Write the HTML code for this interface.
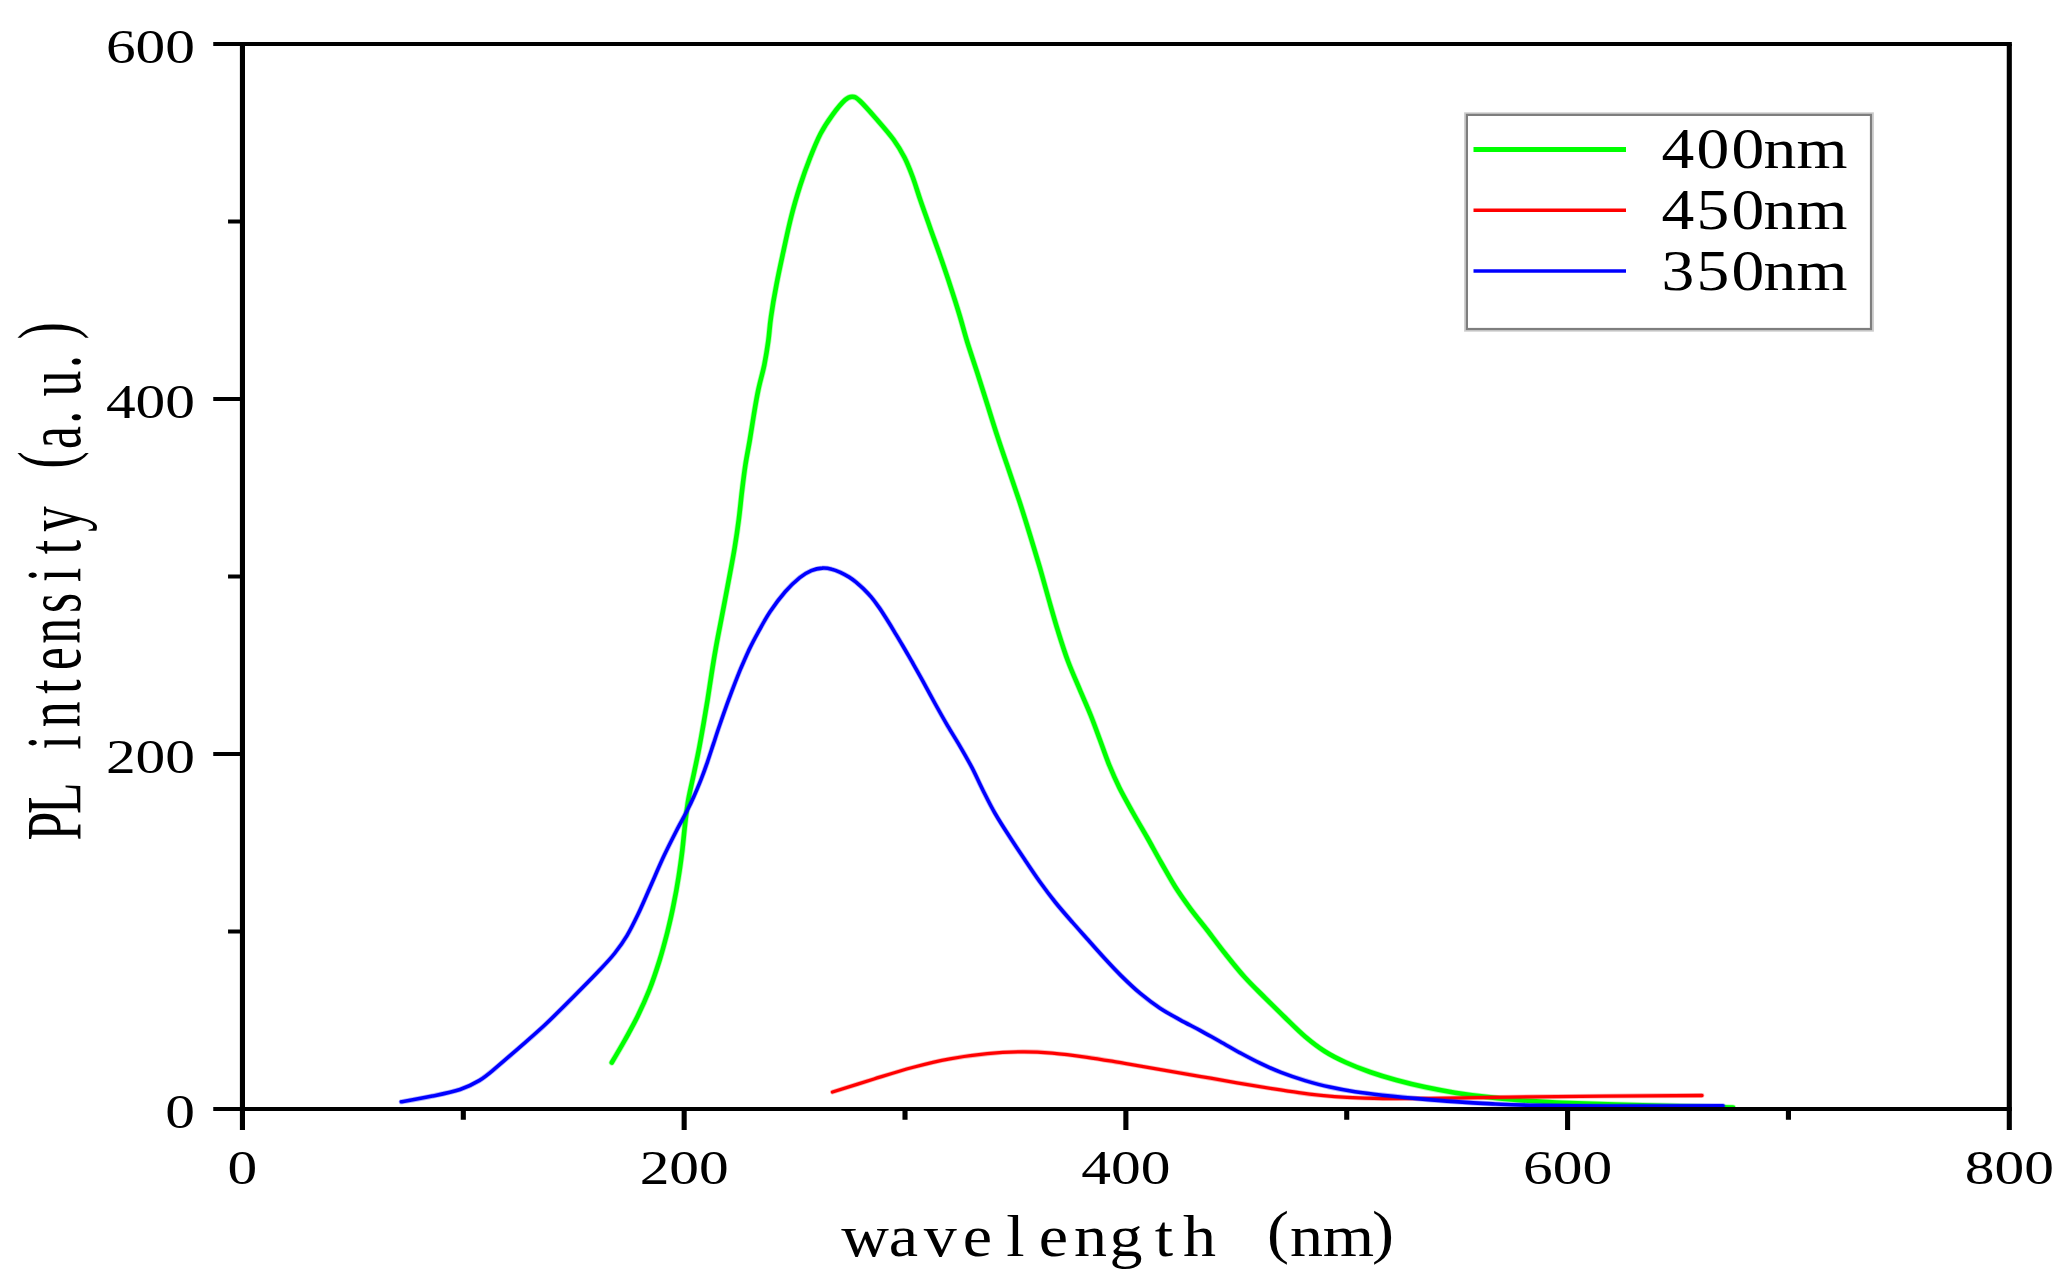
<!DOCTYPE html>
<html><head><meta charset="utf-8"><title>PL intensity vs wavelength</title>
<style>
html,body{margin:0;padding:0;background:#fff;}
body{width:2066px;height:1288px;overflow:hidden;}
svg{display:block;}
text{font-family:"Liberation Serif",serif;fill:#000;}
</style></head>
<body>
<svg width="2066" height="1288" viewBox="0 0 2066 1288">
<rect width="2066" height="1288" fill="#fff"/>
<path d="M611.8,1062.5 C614.0,1058.8 620.6,1047.7 624.9,1040.0 C629.1,1032.3 633.4,1024.9 637.5,1016.5 C641.6,1008.1 645.8,998.8 649.5,989.5 C653.2,980.2 656.5,970.0 659.5,960.5 C662.5,951.0 664.9,941.8 667.3,932.5 C669.6,923.2 671.7,914.2 673.5,905.0 C675.4,895.8 677.1,886.6 678.5,877.5 C680.0,868.4 681.2,859.2 682.3,850.5 C683.3,841.8 684.0,833.4 685.0,825.0 C686.0,816.6 686.8,808.3 688.3,799.8 C689.8,791.4 691.9,782.8 693.7,774.4 C695.5,766.0 697.3,757.7 698.9,749.4 C700.5,741.1 701.9,732.8 703.4,724.5 C704.8,716.2 706.2,708.0 707.6,699.7 C708.9,691.4 710.1,683.1 711.4,674.8 C712.7,666.5 714.0,658.3 715.5,650.0 C716.9,641.7 718.6,633.3 720.2,625.0 C721.8,616.7 723.4,608.4 725.0,600.0 C726.6,591.6 728.1,583.2 729.8,574.5 C731.4,565.8 733.2,556.7 734.7,547.5 C736.2,538.3 737.6,528.9 738.8,519.5 C740.0,510.1 740.9,500.1 742.0,491.0 C743.1,481.9 744.1,473.5 745.4,465.0 C746.7,456.5 748.4,448.3 749.8,440.0 C751.2,431.7 752.4,423.3 753.8,415.0 C755.2,406.7 756.5,398.3 758.3,390.0 C760.0,381.7 762.6,373.2 764.3,365.0 C765.9,356.8 767.2,349.0 768.3,341.0 C769.4,333.0 769.6,326.3 771.0,317.0 C772.3,307.7 774.2,296.2 776.4,285.0 C778.5,273.8 781.2,261.5 783.7,250.0 C786.2,238.5 788.6,226.8 791.4,216.0 C794.1,205.2 797.1,195.2 800.2,185.5 C803.3,175.8 806.6,166.6 810.0,158.0 C813.4,149.4 816.8,141.0 820.5,133.8 C824.2,126.6 828.4,120.4 832.5,114.8 C836.6,109.2 841.7,103.0 845.0,100.0 C848.3,97.0 850.0,96.6 852.5,96.8 C855.0,97.0 855.8,97.1 860.0,101.0 C864.2,104.9 871.9,113.8 877.5,120.2 C883.1,126.6 889.0,133.3 893.5,139.5 C898.0,145.7 901.3,151.3 904.5,157.5 C907.7,163.7 909.8,169.3 912.5,176.5 C915.2,183.7 917.6,192.0 920.5,200.5 C923.4,209.0 926.8,218.3 930.0,227.5 C933.2,236.7 936.7,245.9 940.0,255.5 C943.3,265.1 946.8,275.2 950.0,285.0 C953.2,294.8 956.4,304.6 959.2,314.0 C962.1,323.4 964.1,331.8 967.1,341.5 C970.1,351.2 973.8,361.9 977.2,372.5 C980.6,383.1 984.1,394.2 987.5,405.0 C990.9,415.8 994.2,426.7 997.8,437.5 C1001.3,448.3 1005.1,459.2 1008.8,470.0 C1012.4,480.8 1016.2,491.7 1019.8,502.5 C1023.3,513.3 1026.7,524.2 1030.0,535.0 C1033.3,545.8 1036.6,556.8 1039.8,567.5 C1042.9,578.2 1045.8,589.0 1048.8,599.5 C1051.8,610.0 1054.6,620.1 1057.8,630.4 C1061.0,640.7 1064.3,651.4 1068.0,661.2 C1071.7,671.0 1075.9,680.4 1079.7,689.4 C1083.5,698.4 1087.2,706.6 1090.6,715.0 C1094.0,723.4 1096.9,731.8 1100.0,740.0 C1103.0,748.2 1105.8,756.5 1109.0,764.5 C1112.3,772.5 1115.6,780.0 1119.5,788.0 C1123.5,796.0 1128.2,804.2 1132.8,812.5 C1137.4,820.8 1142.5,829.2 1147.2,837.5 C1151.9,845.8 1156.4,854.3 1161.1,862.5 C1165.8,870.7 1170.3,879.0 1175.2,886.8 C1180.1,894.5 1185.1,901.5 1190.5,908.8 C1195.9,916.1 1201.7,923.0 1207.5,930.5 C1213.3,938.1 1219.2,946.2 1225.5,954.0 C1231.8,961.9 1238.4,970.3 1245.0,977.5 C1251.6,984.8 1258.3,991.1 1265.0,997.8 C1271.7,1004.4 1278.3,1011.0 1285.0,1017.5 C1291.7,1024.0 1298.3,1030.8 1305.0,1036.5 C1311.7,1042.2 1318.2,1047.2 1325.0,1051.5 C1331.8,1055.8 1338.5,1059.1 1346.0,1062.5 C1353.5,1065.9 1361.7,1069.1 1370.0,1072.0 C1378.3,1074.9 1386.8,1077.5 1396.0,1080.0 C1405.2,1082.5 1415.2,1085.0 1425.0,1087.1 C1434.8,1089.2 1444.8,1091.1 1455.0,1092.7 C1465.2,1094.3 1475.2,1095.7 1486.0,1096.9 C1496.8,1098.2 1508.3,1099.3 1520.0,1100.2 C1531.7,1101.1 1540.3,1101.7 1556.2,1102.5 C1572.1,1103.2 1585.7,1103.7 1615.2,1104.6 C1644.7,1105.4 1713.4,1107.0 1733.0,1107.5" fill="none" stroke="#00ff00" stroke-opacity="0.3" stroke-width="6.199999999999999" stroke-linecap="round" stroke-linejoin="round"/>
<path d="M611.8,1062.5 C614.0,1058.8 620.6,1047.7 624.9,1040.0 C629.1,1032.3 633.4,1024.9 637.5,1016.5 C641.6,1008.1 645.8,998.8 649.5,989.5 C653.2,980.2 656.5,970.0 659.5,960.5 C662.5,951.0 664.9,941.8 667.3,932.5 C669.6,923.2 671.7,914.2 673.5,905.0 C675.4,895.8 677.1,886.6 678.5,877.5 C680.0,868.4 681.2,859.2 682.3,850.5 C683.3,841.8 684.0,833.4 685.0,825.0 C686.0,816.6 686.8,808.3 688.3,799.8 C689.8,791.4 691.9,782.8 693.7,774.4 C695.5,766.0 697.3,757.7 698.9,749.4 C700.5,741.1 701.9,732.8 703.4,724.5 C704.8,716.2 706.2,708.0 707.6,699.7 C708.9,691.4 710.1,683.1 711.4,674.8 C712.7,666.5 714.0,658.3 715.5,650.0 C716.9,641.7 718.6,633.3 720.2,625.0 C721.8,616.7 723.4,608.4 725.0,600.0 C726.6,591.6 728.1,583.2 729.8,574.5 C731.4,565.8 733.2,556.7 734.7,547.5 C736.2,538.3 737.6,528.9 738.8,519.5 C740.0,510.1 740.9,500.1 742.0,491.0 C743.1,481.9 744.1,473.5 745.4,465.0 C746.7,456.5 748.4,448.3 749.8,440.0 C751.2,431.7 752.4,423.3 753.8,415.0 C755.2,406.7 756.5,398.3 758.3,390.0 C760.0,381.7 762.6,373.2 764.3,365.0 C765.9,356.8 767.2,349.0 768.3,341.0 C769.4,333.0 769.6,326.3 771.0,317.0 C772.3,307.7 774.2,296.2 776.4,285.0 C778.5,273.8 781.2,261.5 783.7,250.0 C786.2,238.5 788.6,226.8 791.4,216.0 C794.1,205.2 797.1,195.2 800.2,185.5 C803.3,175.8 806.6,166.6 810.0,158.0 C813.4,149.4 816.8,141.0 820.5,133.8 C824.2,126.6 828.4,120.4 832.5,114.8 C836.6,109.2 841.7,103.0 845.0,100.0 C848.3,97.0 850.0,96.6 852.5,96.8 C855.0,97.0 855.8,97.1 860.0,101.0 C864.2,104.9 871.9,113.8 877.5,120.2 C883.1,126.6 889.0,133.3 893.5,139.5 C898.0,145.7 901.3,151.3 904.5,157.5 C907.7,163.7 909.8,169.3 912.5,176.5 C915.2,183.7 917.6,192.0 920.5,200.5 C923.4,209.0 926.8,218.3 930.0,227.5 C933.2,236.7 936.7,245.9 940.0,255.5 C943.3,265.1 946.8,275.2 950.0,285.0 C953.2,294.8 956.4,304.6 959.2,314.0 C962.1,323.4 964.1,331.8 967.1,341.5 C970.1,351.2 973.8,361.9 977.2,372.5 C980.6,383.1 984.1,394.2 987.5,405.0 C990.9,415.8 994.2,426.7 997.8,437.5 C1001.3,448.3 1005.1,459.2 1008.8,470.0 C1012.4,480.8 1016.2,491.7 1019.8,502.5 C1023.3,513.3 1026.7,524.2 1030.0,535.0 C1033.3,545.8 1036.6,556.8 1039.8,567.5 C1042.9,578.2 1045.8,589.0 1048.8,599.5 C1051.8,610.0 1054.6,620.1 1057.8,630.4 C1061.0,640.7 1064.3,651.4 1068.0,661.2 C1071.7,671.0 1075.9,680.4 1079.7,689.4 C1083.5,698.4 1087.2,706.6 1090.6,715.0 C1094.0,723.4 1096.9,731.8 1100.0,740.0 C1103.0,748.2 1105.8,756.5 1109.0,764.5 C1112.3,772.5 1115.6,780.0 1119.5,788.0 C1123.5,796.0 1128.2,804.2 1132.8,812.5 C1137.4,820.8 1142.5,829.2 1147.2,837.5 C1151.9,845.8 1156.4,854.3 1161.1,862.5 C1165.8,870.7 1170.3,879.0 1175.2,886.8 C1180.1,894.5 1185.1,901.5 1190.5,908.8 C1195.9,916.1 1201.7,923.0 1207.5,930.5 C1213.3,938.1 1219.2,946.2 1225.5,954.0 C1231.8,961.9 1238.4,970.3 1245.0,977.5 C1251.6,984.8 1258.3,991.1 1265.0,997.8 C1271.7,1004.4 1278.3,1011.0 1285.0,1017.5 C1291.7,1024.0 1298.3,1030.8 1305.0,1036.5 C1311.7,1042.2 1318.2,1047.2 1325.0,1051.5 C1331.8,1055.8 1338.5,1059.1 1346.0,1062.5 C1353.5,1065.9 1361.7,1069.1 1370.0,1072.0 C1378.3,1074.9 1386.8,1077.5 1396.0,1080.0 C1405.2,1082.5 1415.2,1085.0 1425.0,1087.1 C1434.8,1089.2 1444.8,1091.1 1455.0,1092.7 C1465.2,1094.3 1475.2,1095.7 1486.0,1096.9 C1496.8,1098.2 1508.3,1099.3 1520.0,1100.2 C1531.7,1101.1 1540.3,1101.7 1556.2,1102.5 C1572.1,1103.2 1585.7,1103.7 1615.2,1104.6 C1644.7,1105.4 1713.4,1107.0 1733.0,1107.5" fill="none" stroke="#00ff00" stroke-width="4.6" stroke-linecap="round" stroke-linejoin="round"/>
<path d="M832.5,1092.0 C839.4,1089.8 860.7,1083.1 874.0,1079.0 C887.3,1074.9 899.8,1070.9 912.4,1067.5 C925.1,1064.2 937.5,1061.2 949.9,1058.9 C962.4,1056.6 975.3,1054.9 987.3,1053.7 C999.4,1052.5 1011.5,1051.9 1022.3,1051.8 C1033.1,1051.7 1041.4,1052.2 1052.2,1053.1 C1063.0,1054.0 1075.0,1055.6 1087.1,1057.3 C1099.2,1059.0 1112.1,1061.3 1124.6,1063.3 C1137.1,1065.4 1149.6,1067.6 1162.1,1069.8 C1174.5,1072.0 1187.1,1074.1 1199.6,1076.3 C1212.1,1078.5 1224.9,1080.7 1237.0,1082.8 C1249.1,1084.8 1261.8,1087.0 1272.1,1088.7 C1282.4,1090.3 1290.8,1091.6 1298.9,1092.7 C1307.1,1093.9 1313.0,1094.6 1321.0,1095.4 C1329.0,1096.2 1336.7,1096.9 1347.0,1097.4 C1357.3,1097.9 1369.2,1098.3 1383.0,1098.5 C1396.8,1098.7 1413.8,1098.5 1430.0,1098.4 C1446.2,1098.2 1462.8,1097.8 1480.0,1097.6 C1497.2,1097.3 1512.5,1097.0 1533.2,1096.8 C1553.9,1096.5 1575.9,1096.3 1604.0,1096.1 C1632.1,1095.8 1685.7,1095.6 1702.0,1095.5" fill="none" stroke="#ff0000" stroke-opacity="0.3" stroke-width="4.9" stroke-linecap="round" stroke-linejoin="round"/>
<path d="M832.5,1092.0 C839.4,1089.8 860.7,1083.1 874.0,1079.0 C887.3,1074.9 899.8,1070.9 912.4,1067.5 C925.1,1064.2 937.5,1061.2 949.9,1058.9 C962.4,1056.6 975.3,1054.9 987.3,1053.7 C999.4,1052.5 1011.5,1051.9 1022.3,1051.8 C1033.1,1051.7 1041.4,1052.2 1052.2,1053.1 C1063.0,1054.0 1075.0,1055.6 1087.1,1057.3 C1099.2,1059.0 1112.1,1061.3 1124.6,1063.3 C1137.1,1065.4 1149.6,1067.6 1162.1,1069.8 C1174.5,1072.0 1187.1,1074.1 1199.6,1076.3 C1212.1,1078.5 1224.9,1080.7 1237.0,1082.8 C1249.1,1084.8 1261.8,1087.0 1272.1,1088.7 C1282.4,1090.3 1290.8,1091.6 1298.9,1092.7 C1307.1,1093.9 1313.0,1094.6 1321.0,1095.4 C1329.0,1096.2 1336.7,1096.9 1347.0,1097.4 C1357.3,1097.9 1369.2,1098.3 1383.0,1098.5 C1396.8,1098.7 1413.8,1098.5 1430.0,1098.4 C1446.2,1098.2 1462.8,1097.8 1480.0,1097.6 C1497.2,1097.3 1512.5,1097.0 1533.2,1096.8 C1553.9,1096.5 1575.9,1096.3 1604.0,1096.1 C1632.1,1095.8 1685.7,1095.6 1702.0,1095.5" fill="none" stroke="#ff0000" stroke-width="3.3" stroke-linecap="round" stroke-linejoin="round"/>
<path d="M401.3,1101.8 C406.5,1100.9 422.5,1098.2 432.3,1096.1 C442.0,1094.1 452.1,1092.1 460.0,1089.5 C467.9,1086.8 473.5,1084.0 479.5,1080.4 C485.5,1076.7 489.8,1072.8 496.0,1067.7 C502.2,1062.5 508.8,1056.7 517.0,1049.6 C525.2,1042.4 535.5,1033.7 545.0,1024.8 C554.5,1015.9 565.2,1005.0 574.0,996.2 C582.8,987.4 591.2,978.9 598.0,971.8 C604.8,964.6 609.7,959.5 614.5,953.5 C619.3,947.4 623.1,942.1 627.0,935.6 C630.9,929.0 634.1,922.4 638.0,914.3 C641.9,906.2 646.0,896.4 650.2,886.9 C654.4,877.4 659.1,866.4 663.4,857.1 C667.7,847.8 672.3,838.8 676.2,831.2 C680.1,823.6 683.8,817.2 686.8,811.3 C689.8,805.5 691.8,801.3 694.1,796.0 C696.5,790.8 698.6,785.6 700.9,779.9 C703.1,774.2 705.4,767.9 707.5,761.8 C709.6,755.7 711.6,749.4 713.7,743.2 C715.7,737.0 717.7,730.7 719.9,724.5 C722.0,718.3 724.2,712.1 726.4,705.9 C728.7,699.7 730.9,693.5 733.3,687.3 C735.7,681.1 738.2,674.7 740.7,668.6 C743.3,662.6 745.8,656.8 748.5,650.9 C751.3,645.1 753.6,640.3 757.3,633.8 C760.9,627.2 765.5,618.6 770.2,611.6 C774.9,604.5 780.5,597.1 785.4,591.5 C790.3,585.8 795.5,581.1 799.8,577.6 C804.1,574.2 807.6,572.3 811.3,570.7 C815.1,569.1 818.8,568.3 822.2,568.1 C825.6,567.8 828.7,568.4 831.7,569.2 C834.7,569.9 837.4,571.1 840.3,572.4 C843.2,573.8 846.4,575.5 849.1,577.1 C851.7,578.7 853.6,580.2 856.0,582.1 C858.3,584.1 860.8,586.2 863.3,588.6 C865.8,591.1 868.5,593.8 871.1,596.9 C873.7,600.0 876.2,603.4 878.8,607.1 C881.4,610.7 884.0,614.9 886.6,619.0 C889.2,623.1 891.7,627.2 894.3,631.6 C896.9,635.9 899.5,640.1 902.3,645.0 C905.2,649.9 908.1,655.0 911.5,660.9 C914.9,666.9 918.8,673.7 922.7,680.8 C926.6,687.9 930.9,696.0 935.0,703.5 C939.1,710.9 943.3,718.4 947.5,725.6 C951.7,732.7 955.9,739.3 960.0,746.3 C964.1,753.3 968.2,760.4 972.0,767.7 C975.8,775.0 979.0,782.5 982.8,790.0 C986.6,797.5 990.3,805.2 994.8,813.0 C999.3,820.8 1004.7,829.2 1009.8,837.0 C1014.8,844.8 1020.0,852.5 1025.0,860.0 C1030.0,867.5 1034.9,874.9 1040.0,882.0 C1045.1,889.1 1050.1,895.8 1055.5,902.5 C1060.9,909.2 1066.8,915.9 1072.5,922.4 C1078.2,928.9 1084.1,935.4 1089.5,941.5 C1094.9,947.6 1099.8,953.1 1105.0,958.8 C1110.2,964.5 1115.2,969.9 1121.0,975.6 C1126.8,981.3 1133.5,987.8 1140.0,993.2 C1146.5,998.6 1153.3,1003.8 1160.0,1008.2 C1166.7,1012.6 1173.3,1016.1 1180.0,1019.8 C1186.7,1023.5 1193.3,1026.7 1200.0,1030.3 C1206.7,1033.9 1213.3,1037.8 1220.0,1041.5 C1226.7,1045.2 1233.3,1049.2 1240.0,1052.8 C1246.7,1056.4 1253.2,1059.9 1260.0,1063.2 C1266.8,1066.5 1273.5,1069.5 1281.0,1072.4 C1288.5,1075.3 1296.8,1078.1 1305.0,1080.6 C1313.2,1083.0 1321.7,1085.3 1330.0,1087.1 C1338.3,1089.0 1346.2,1090.4 1355.0,1091.7 C1363.8,1093.0 1372.1,1094.0 1382.5,1095.2 C1392.9,1096.3 1405.4,1097.6 1417.5,1098.6 C1429.6,1099.7 1442.5,1100.8 1455.0,1101.6 C1467.5,1102.5 1479.0,1103.2 1492.5,1103.9 C1506.0,1104.5 1516.4,1105.0 1535.7,1105.4 C1555.0,1105.7 1577.0,1106.0 1608.2,1106.0 C1639.4,1106.1 1703.9,1105.8 1723.0,1105.8" fill="none" stroke="#0000ff" stroke-opacity="0.3" stroke-width="5.2" stroke-linecap="round" stroke-linejoin="round"/>
<path d="M401.3,1101.8 C406.5,1100.9 422.5,1098.2 432.3,1096.1 C442.0,1094.1 452.1,1092.1 460.0,1089.5 C467.9,1086.8 473.5,1084.0 479.5,1080.4 C485.5,1076.7 489.8,1072.8 496.0,1067.7 C502.2,1062.5 508.8,1056.7 517.0,1049.6 C525.2,1042.4 535.5,1033.7 545.0,1024.8 C554.5,1015.9 565.2,1005.0 574.0,996.2 C582.8,987.4 591.2,978.9 598.0,971.8 C604.8,964.6 609.7,959.5 614.5,953.5 C619.3,947.4 623.1,942.1 627.0,935.6 C630.9,929.0 634.1,922.4 638.0,914.3 C641.9,906.2 646.0,896.4 650.2,886.9 C654.4,877.4 659.1,866.4 663.4,857.1 C667.7,847.8 672.3,838.8 676.2,831.2 C680.1,823.6 683.8,817.2 686.8,811.3 C689.8,805.5 691.8,801.3 694.1,796.0 C696.5,790.8 698.6,785.6 700.9,779.9 C703.1,774.2 705.4,767.9 707.5,761.8 C709.6,755.7 711.6,749.4 713.7,743.2 C715.7,737.0 717.7,730.7 719.9,724.5 C722.0,718.3 724.2,712.1 726.4,705.9 C728.7,699.7 730.9,693.5 733.3,687.3 C735.7,681.1 738.2,674.7 740.7,668.6 C743.3,662.6 745.8,656.8 748.5,650.9 C751.3,645.1 753.6,640.3 757.3,633.8 C760.9,627.2 765.5,618.6 770.2,611.6 C774.9,604.5 780.5,597.1 785.4,591.5 C790.3,585.8 795.5,581.1 799.8,577.6 C804.1,574.2 807.6,572.3 811.3,570.7 C815.1,569.1 818.8,568.3 822.2,568.1 C825.6,567.8 828.7,568.4 831.7,569.2 C834.7,569.9 837.4,571.1 840.3,572.4 C843.2,573.8 846.4,575.5 849.1,577.1 C851.7,578.7 853.6,580.2 856.0,582.1 C858.3,584.1 860.8,586.2 863.3,588.6 C865.8,591.1 868.5,593.8 871.1,596.9 C873.7,600.0 876.2,603.4 878.8,607.1 C881.4,610.7 884.0,614.9 886.6,619.0 C889.2,623.1 891.7,627.2 894.3,631.6 C896.9,635.9 899.5,640.1 902.3,645.0 C905.2,649.9 908.1,655.0 911.5,660.9 C914.9,666.9 918.8,673.7 922.7,680.8 C926.6,687.9 930.9,696.0 935.0,703.5 C939.1,710.9 943.3,718.4 947.5,725.6 C951.7,732.7 955.9,739.3 960.0,746.3 C964.1,753.3 968.2,760.4 972.0,767.7 C975.8,775.0 979.0,782.5 982.8,790.0 C986.6,797.5 990.3,805.2 994.8,813.0 C999.3,820.8 1004.7,829.2 1009.8,837.0 C1014.8,844.8 1020.0,852.5 1025.0,860.0 C1030.0,867.5 1034.9,874.9 1040.0,882.0 C1045.1,889.1 1050.1,895.8 1055.5,902.5 C1060.9,909.2 1066.8,915.9 1072.5,922.4 C1078.2,928.9 1084.1,935.4 1089.5,941.5 C1094.9,947.6 1099.8,953.1 1105.0,958.8 C1110.2,964.5 1115.2,969.9 1121.0,975.6 C1126.8,981.3 1133.5,987.8 1140.0,993.2 C1146.5,998.6 1153.3,1003.8 1160.0,1008.2 C1166.7,1012.6 1173.3,1016.1 1180.0,1019.8 C1186.7,1023.5 1193.3,1026.7 1200.0,1030.3 C1206.7,1033.9 1213.3,1037.8 1220.0,1041.5 C1226.7,1045.2 1233.3,1049.2 1240.0,1052.8 C1246.7,1056.4 1253.2,1059.9 1260.0,1063.2 C1266.8,1066.5 1273.5,1069.5 1281.0,1072.4 C1288.5,1075.3 1296.8,1078.1 1305.0,1080.6 C1313.2,1083.0 1321.7,1085.3 1330.0,1087.1 C1338.3,1089.0 1346.2,1090.4 1355.0,1091.7 C1363.8,1093.0 1372.1,1094.0 1382.5,1095.2 C1392.9,1096.3 1405.4,1097.6 1417.5,1098.6 C1429.6,1099.7 1442.5,1100.8 1455.0,1101.6 C1467.5,1102.5 1479.0,1103.2 1492.5,1103.9 C1506.0,1104.5 1516.4,1105.0 1535.7,1105.4 C1555.0,1105.7 1577.0,1106.0 1608.2,1106.0 C1639.4,1106.1 1703.9,1105.8 1723.0,1105.8" fill="none" stroke="#0000ff" stroke-width="3.6" stroke-linecap="round" stroke-linejoin="round"/>
<path d="M239.90,43.95 H2011.85 M239.90,1108.9 H2011.85 M242.45,1108.90 h-29.2 M242.45,931.41 h-14.4 M242.45,753.92 h-29.2 M242.45,576.43 h-14.4 M242.45,398.93 h-29.2 M242.45,221.44 h-14.4 M242.45,43.95 h-29.2" fill="none" stroke="#000" stroke-width="4.0"/>
<path d="M242.45,43.95 V1108.9 M2009.3,43.95 V1108.9 M242.45,1108.9 v21.2 M463.31,1108.9 v10.8 M684.16,1108.9 v21.2 M905.02,1108.9 v10.8 M1125.88,1108.9 v21.2 M1346.73,1108.9 v10.8 M1567.59,1108.9 v21.2 M1788.44,1108.9 v10.8 M2009.30,1108.9 v21.2" fill="none" stroke="#000" stroke-width="5.1"/>
<text transform="translate(242.4,1184.0) scale(1.2,1)" font-size="49.5" text-anchor="middle">0</text>
<text transform="translate(684.2,1184.0) scale(1.2,1)" font-size="49.5" text-anchor="middle">200</text>
<text transform="translate(1125.9,1184.0) scale(1.2,1)" font-size="49.5" text-anchor="middle">400</text>
<text transform="translate(1567.6,1184.0) scale(1.2,1)" font-size="49.5" text-anchor="middle">600</text>
<text transform="translate(2009.3,1184.0) scale(1.2,1)" font-size="49.5" text-anchor="middle">800</text>
<text transform="translate(195.0,1127.6) scale(1.2,1)" font-size="49.5" text-anchor="end">0</text>
<text transform="translate(195.0,772.6) scale(1.2,1)" font-size="49.5" text-anchor="end">200</text>
<text transform="translate(195.0,417.6) scale(1.2,1)" font-size="49.5" text-anchor="end">400</text>
<text transform="translate(195.0,62.7) scale(1.2,1)" font-size="49.5" text-anchor="end">600</text>
<text transform="translate(848.0,1256.0) scale(1.100,1.000)" x="15.45 50.45 83.82 117.64 152.09 186.64 220.36 252.82 287.27 319.64 355.09 390.91 416.82 455.00 486.36" dy="-0.00 0.00 0.00 0.00 0.00 0.00 0.00 0.00 0.00 0.00 0.00 -4.50 4.50 0.00 -4.50" font-size="60" text-anchor="middle">wavelength (nm)</text>
<text transform="translate(79.6,840.0) rotate(-90) scale(0.860,1.310)" x="16.22 48.66 81.10 113.55 145.99 178.43 210.87 243.31 275.76 308.20 340.64 373.08 405.52 441.86 468.02 491.40 530.58 556.40 591.86" dy="-0.00 0.00 0.00 0.00 0.00 0.00 0.00 0.00 0.00 0.00 0.00 0.00 0.00 -6.11 6.11 0.00 0.00 0.00 -6.11" font-size="60" text-anchor="middle">PL intensity (a.u.)</text>
<rect x="1465" y="113.2" width="408" height="217.6" fill="#fff" stroke="#cdcdcd" stroke-width="1.8"/>
<rect x="1466.9" y="114.9" width="404.1" height="214.1" fill="#fff" stroke="#7e7e7e" stroke-width="2.2"/>
<line x1="1473.5" x2="1626" y1="149.5" y2="149.5" stroke="#00ff00" stroke-width="4.8"/>
<text transform="translate(1660.0,168.4) scale(1.150,1.000)" x="15.65 46.09 76.52 104.35 140.87" font-size="57" text-anchor="middle">400nm</text>
<line x1="1473.5" x2="1626" y1="210.3" y2="210.3" stroke="#ff0000" stroke-width="3.4"/>
<text transform="translate(1660.0,229.4) scale(1.150,1.000)" x="15.65 46.09 76.52 104.35 140.87" font-size="57" text-anchor="middle">450nm</text>
<line x1="1473.5" x2="1626" y1="271" y2="271" stroke="#0000ff" stroke-width="3.4"/>
<text transform="translate(1660.0,290.3) scale(1.150,1.000)" x="15.65 46.09 76.52 104.35 140.87" font-size="57" text-anchor="middle">350nm</text>
</svg>
</body></html>
